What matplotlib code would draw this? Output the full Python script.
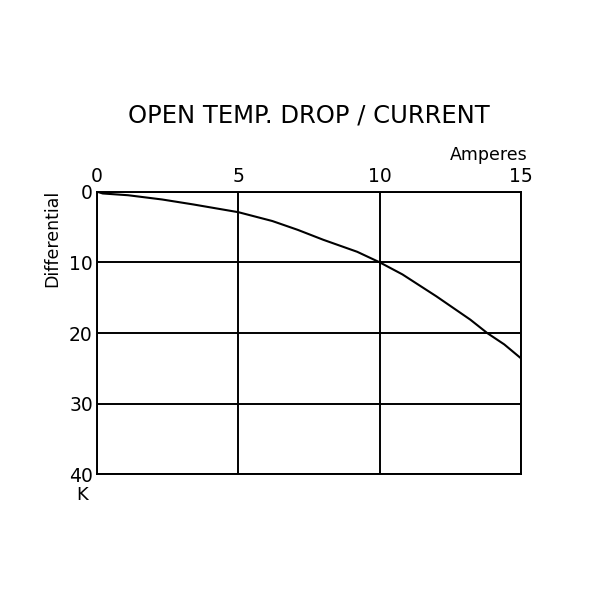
import matplotlib
matplotlib.use("Agg")
import matplotlib.pyplot as plt

# Data
current_a = [0, 0.2, 1.1, 2.3, 3.4, 5.0, 6.2, 7.1, 8.0, 9.2, 10.0, 10.8, 12.0, 13.2, 13.8, 14.4, 15.0]
temp_drop_k = [0, 0.25, 0.5, 1.1, 1.8, 2.9, 4.15, 5.4, 6.8, 8.5, 10.0, 11.7, 14.8, 18.1, 20.0, 21.6, 23.6]
x_ticks = [0, 5, 10, 15]
y_ticks = [0, 10, 20, 30, 40]

title = "OPEN TEMP. DROP / CURRENT"
x_label = "Amperes"
y_label = "Differential"
y_unit = "K"

plt.rcParams['font.family'] = ['DejaVu Sans']
fig = plt.figure(figsize=(6, 6), dpi=100)
ax = fig.add_axes([0.1617, 0.2092, 0.707, 0.4713])

ax.plot(current_a, temp_drop_k, color='black', lw=1.5)
ax.set_xlim(0, 15)
ax.set_ylim(40, 0)
ax.set_xticks(x_ticks)
ax.set_yticks(y_ticks)
ax.xaxis.tick_top()
ax.tick_params(axis='both', length=0, labelsize=13.5)
ax.tick_params(axis='x', pad=4)
ax.tick_params(axis='y', pad=3)
ax.grid(True, color='black', lw=1.4)
for s in ax.spines.values():
    s.set_linewidth(1.4)

fig.text(0.515, 0.808, title, ha='center', va='center', fontsize=17.5)
fig.text(0.88, 0.742, x_label, ha='right', va='center', fontsize=12.5)
fig.text(0.087, 0.603, y_label, ha='center', va='center', rotation=90, fontsize=12.5)
fig.text(0.137, 0.175, y_unit, ha='center', va='center', fontsize=13)

fig.savefig("out.png", dpi=100)
